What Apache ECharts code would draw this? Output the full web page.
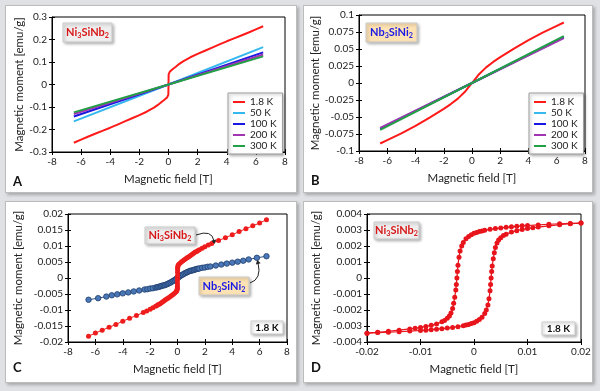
<!DOCTYPE html>
<html>
<head>
<meta charset="utf-8">
<script src="https://cdn.jsdelivr.net/npm/echarts@6/dist/echarts.min.js"></script>
<style>
html, body { margin: 0; padding: 0; background: #dfe1e4; }
#wrap { position: relative; width: 600px; height: 391px; }
.panel { position: absolute; background: #fff; border: 1px solid #bcbcbc; box-sizing: border-box;
         box-shadow: 2px 2px 3px rgba(0,0,0,0.25); }
#chart { position: absolute; left: 0; top: 0; width: 600px; height: 391px; }
</style>
</head>
<body>
<div id="wrap">
  <div class="panel" style="left:5px;top:5px;width:292px;height:188px"></div>
  <div class="panel" style="left:303px;top:5px;width:290px;height:188px"></div>
  <div class="panel" style="left:5px;top:201px;width:292px;height:182px"></div>
  <div class="panel" style="left:303px;top:201px;width:290px;height:182px"></div>
  <div id="chart"></div>
</div>
<script>
// panel A: Ni3SiNb2, M(H) at several temperatures
const a18X = [-6.5, -6, -5.5, -5, -4.5, -4, -3.5, -3, -2.5, -2, -1.5, -1, -0.75, -0.5, -0.3, -0.2, -0.1, -0.05, -0.01, 0,
              0.01, 0.05, 0.1, 0.2, 0.3, 0.5, 0.75, 1, 1.5, 2, 2.5, 3, 3.5, 4, 4.5, 5, 5.5, 6, 6.5];
const a18Y = [-0.259, -0.245, -0.231, -0.218, -0.205, -0.192, -0.178, -0.164, -0.150, -0.136, -0.121, -0.103, -0.092, -0.079, -0.069, -0.064, -0.058, -0.053, -0.045, 0,
              0.045, 0.053, 0.058, 0.064, 0.069, 0.079, 0.092, 0.103, 0.121, 0.136, 0.150, 0.164, 0.178, 0.192, 0.205, 0.218, 0.231, 0.245, 0.259];
const linX = [-6.5, 0, 6.5];
const a50Y = [-0.164, 0, 0.166];
const a100Y = [-0.142, 0, 0.143];
const a200Y = [-0.131, 0, 0.133];
const a300Y = [-0.124, 0, 0.125];

// panel B: Nb3SiNi2
const b18X = [-6.5, -6, -5, -4, -3, -2, -1.5, -1, -0.5, -0.25, 0, 0.25, 0.5, 1, 1.5, 2, 3, 4, 5, 6, 6.5];
const b18Y = [-0.089, -0.084, -0.074, -0.063, -0.051, -0.038, -0.031, -0.023, -0.013, -0.0065, 0,
              0.0065, 0.013, 0.023, 0.031, 0.038, 0.051, 0.063, 0.074, 0.084, 0.089];
const b50Y = [-0.067, 0, 0.068];
const b100Y = [-0.067, 0, 0.067];
const b200Y = [-0.066, 0, 0.066];
const b300Y = [-0.069, 0, 0.069];

const tempNames = ['1.8 K', '50 K', '100 K', '200 K', '300 K'];
const tempColors = ['#ff1a1a', '#35b8ee', '#1818e0', '#a234b4', '#22a046'];

// panel C: both compounds at 1.8 K
const cNiX = [-6.5, -6, -5.5, -5, -4.5, -4, -3.5, -3, -2.5, -2.25, -2, -1.8, -1.6, -1.5, -1.4, -1.3, -1.2, -1.1, -1, -0.9, -0.8, -0.7, -0.6, -0.5, -0.4, -0.3, -0.2, -0.1, -0.05, -0.02, -0.01, -0.006, -0.004, -0.002,
              0,
              0.002, 0.004, 0.006, 0.01, 0.02, 0.05, 0.1, 0.2, 0.3, 0.4, 0.5, 0.6, 0.7, 0.8, 0.9, 1, 1.1, 1.2, 1.3, 1.4, 1.5, 1.6, 1.8, 2, 2.25, 2.5, 3, 3.5, 4, 4.5, 5, 5.5, 6, 6.5];
const cNiY = [-0.0182, -0.0172, -0.0163, -0.0154, -0.0145, -0.0135, -0.0126, -0.0117, -0.0108, -0.0103, -0.0098, -0.0093, -0.0088, -0.0086, -0.0083, -0.0081, -0.0078, -0.0075, -0.0072, -0.0069, -0.0066, -0.0063, -0.0060, -0.0057, -0.0054, -0.0051, -0.0047, -0.0043, -0.0040, -0.0035, -0.0031, -0.0026, -0.0018, -0.0008,
              0,
              0.0008, 0.0018, 0.0026, 0.0031, 0.0035, 0.0040, 0.0043, 0.0047, 0.0051, 0.0054, 0.0057, 0.0060, 0.0063, 0.0066, 0.0069, 0.0072, 0.0075, 0.0078, 0.0081, 0.0083, 0.0086, 0.0088, 0.0093, 0.0098, 0.0103, 0.0108, 0.0117, 0.0126, 0.0135, 0.0145, 0.0154, 0.0163, 0.0172, 0.0182];
const cNbX = [-6.5, -5.8, -5.2, -4.8, -4.4, -4, -3.6, -3.2, -2.8, -2.4, -2.2, -2, -1.8, -1.6, -1.5, -1.4, -1.3, -1.2, -1.1, -1, -0.9, -0.8, -0.7, -0.6, -0.5, -0.4, -0.3, -0.2, -0.1,
              0,
              0.1, 0.2, 0.3, 0.4, 0.5, 0.6, 0.7, 0.8, 0.9, 1, 1.1, 1.2, 1.3, 1.4, 1.5, 1.6, 1.8, 2, 2.2, 2.4, 2.8, 3.2, 3.6, 4, 4.4, 4.8, 5.2, 5.8, 6.5];
const cNbY = [-0.0068, -0.0063, -0.0058, -0.0054, -0.0051, -0.0048, -0.0045, -0.0042, -0.0039, -0.0036, -0.0035, -0.0033, -0.0032, -0.0030, -0.0029, -0.0028, -0.0027, -0.0025, -0.0024, -0.0023, -0.0022, -0.0020, -0.0018, -0.0016, -0.0014, -0.0011, -0.0009, -0.0006, -0.0003,
              0,
              0.0003, 0.0006, 0.0009, 0.0011, 0.0014, 0.0016, 0.0018, 0.0020, 0.0022, 0.0023, 0.0024, 0.0025, 0.0027, 0.0028, 0.0029, 0.0030, 0.0032, 0.0033, 0.0035, 0.0036, 0.0039, 0.0042, 0.0045, 0.0048, 0.0051, 0.0054, 0.0058, 0.0063, 0.0068];

// panel D: low-field hysteresis loop of Ni3SiNb2
const dDownX = [0.02, 0.018, 0.016, 0.014, 0.012, 0.010, 0.009, 0.008, 0.007, 0.006, 0.005, 0.004, 0.003, 0.002, 0.0015, 0.001, 0.0005, 0,
                -0.0005, -0.001, -0.0015, -0.002, -0.0023, -0.0026, -0.0028, -0.0030, -0.0031, -0.0032, -0.0033, -0.0034, -0.0036, -0.0038, -0.0040,
                -0.0043, -0.0046, -0.005, -0.0055, -0.006, -0.007, -0.008, -0.009, -0.010, -0.011, -0.012, -0.014, -0.016, -0.018, -0.020];
const dDownY = [0.00343, 0.00341, 0.00339, 0.00336, 0.00332, 0.00328, 0.00326, 0.00323, 0.00320, 0.00317, 0.00313, 0.00309, 0.00304, 0.00298, 0.00294, 0.00290, 0.00285, 0.00279,
                0.00271, 0.00260, 0.00245, 0.00222, 0.00200, 0.00168, 0.00130, 0.00080, 0.00040, 0, -0.00040, -0.00075, -0.00120, -0.00158, -0.00190,
                -0.00218, -0.00237, -0.00252, -0.00265, -0.00274, -0.00287, -0.00296, -0.00303, -0.00309, -0.00314, -0.00318, -0.00326, -0.00333, -0.00339, -0.00345];
const dUpX = [-0.020, -0.018, -0.016, -0.014, -0.012, -0.010, -0.009, -0.008, -0.007, -0.006, -0.005, -0.004, -0.003, -0.002, -0.0015, -0.001, -0.0005, 0,
              0.0005, 0.001, 0.0015, 0.002, 0.0023, 0.0026, 0.0028, 0.0030, 0.0031, 0.0032, 0.0033, 0.0034, 0.0036, 0.0038, 0.0040,
              0.0043, 0.0046, 0.005, 0.0055, 0.006, 0.007, 0.008, 0.009, 0.010, 0.011, 0.012, 0.014, 0.016, 0.018, 0.020];
const dUpY = [-0.00345, -0.00341, -0.00339, -0.00336, -0.00332, -0.00328, -0.00326, -0.00323, -0.00320, -0.00317, -0.00313, -0.00309, -0.00304, -0.00298, -0.00294, -0.00290, -0.00285, -0.00279,
              -0.00271, -0.00260, -0.00245, -0.00222, -0.00200, -0.00168, -0.00130, -0.00080, -0.00040, 0, 0.00040, 0.00075, 0.00120, 0.00158, 0.00190,
              0.00218, 0.00237, 0.00252, 0.00265, 0.00274, 0.00287, 0.00296, 0.00303, 0.00309, 0.00314, 0.00318, 0.00326, 0.00333, 0.00339, 0.00343];

const xName = 'Magnetic field [T]';
const yName = 'Magnetic moment [emu/g]';

const FONT = 'Lato, "Open Sans", sans-serif';

function zip(xs, ys) {
    return xs.map((x, i) => [x, ys[i]]);
}

function fmt(v) {
    return String(Math.round(v * 100000) / 100000);
}

// main axis (line, outer ticks, labels) + overlay axis (inner ticks) => Excel style cross ticks
function axisPair(dim, gi, min, max, interval, name, gap) {
    const main = {
        type: 'value', gridIndex: gi, min: min, max: max, interval: interval,
        position: dim === 'x' ? 'bottom' : 'left',
        name: name, nameLocation: 'middle', nameGap: gap,
        nameTextStyle: { fontFamily: FONT, fontSize: 11.5, color: '#222' },
        axisLine: { show: true, onZero: false, lineStyle: { color: '#000', width: 1 } },
        axisTick: { show: true, inside: false, length: 3, lineStyle: { color: '#000' } },
        axisLabel: { fontFamily: FONT, fontSize: 10, color: '#222', margin: 5, formatter: fmt },
        splitLine: { show: false }
    };
    const over = {
        type: 'value', gridIndex: gi, min: min, max: max, interval: interval,
        position: dim === 'x' ? 'bottom' : 'left',
        axisLine: { show: false, onZero: false },
        axisTick: { show: true, inside: true, length: 3, lineStyle: { color: '#000' } },
        axisLabel: { show: false },
        splitLine: { show: false }
    };
    return [main, over];
}

function tag(x, y, w, h, bg, color, text, fs) {
    return {
        type: 'group', x: x, y: y, z: 50,
        children: [
            {
                type: 'rect', shape: { x: 0, y: 0, width: w, height: h },
                style: { fill: bg, stroke: '#c9c9c9', lineWidth: 1,
                         shadowBlur: 3, shadowOffsetX: 1.5, shadowOffsetY: 1.5, shadowColor: 'rgba(0,0,0,0.3)' }
            },
            {
                type: 'text',
                style: {
                    x: w / 2, y: h / 2, align: 'center', verticalAlign: 'middle',
                    text: text,
                    rich: {
                        n: { fontFamily: FONT, fontSize: fs, fontWeight: 'bold', fill: color, lineHeight: 14 },
                        s: { fontFamily: FONT, fontSize: fs * 0.65, fontWeight: 'bold', fill: color, verticalAlign: 'bottom' }
                    }
                }
            }
        ]
    };
}

function arrow(x1, y1, cx, cy, x2, y2) {
    const dx = x2 - cx, dy = y2 - cy;
    const len = Math.sqrt(dx * dx + dy * dy);
    const ux = dx / len, uy = dy / len;
    const tipX = x2 + ux * 3, tipY = y2 + uy * 3;
    const bx = x2 - ux * 1, by = y2 - uy * 1;
    return [
        { type: 'bezierCurve', z: 50, shape: { x1: x1, y1: y1, cpx1: cx, cpy1: cy, x2: x2, y2: y2 },
          style: { stroke: '#222', lineWidth: 1, fill: null } },
        { type: 'polygon', z: 50,
          shape: { points: [[tipX, tipY], [bx - uy * 2.5, by + ux * 2.5], [bx + uy * 2.5, by - ux * 2.5]] },
          style: { fill: '#222' } }
    ];
}

function letter(x, y, t) {
    return { type: 'text', z: 50, style: { x: x, y: y, text: t, fontFamily: FONT, fontSize: 13, fontWeight: 'bold', fill: '#111', verticalAlign: 'middle' } };
}

const niText = '{n|Ni}{s|3}{n|SiNb}{s|2}';
const nbText = '{n|Nb}{s|3}{n|SiNi}{s|2}';

const grids = [
    { left: 52, top: 17, width: 233, height: 135 },
    { left: 359, top: 15, width: 226, height: 136 },
    { left: 68, top: 214, width: 219, height: 128 },
    { left: 367, top: 214, width: 214, height: 128 }
].map(g => Object.assign(g, { show: true, borderColor: '#000', borderWidth: 1, backgroundColor: 'transparent' }));

const xAxes = [].concat(
    axisPair('x', 0, -8, 8, 2, xName, 21),
    axisPair('x', 1, -8, 8, 2, xName, 21),
    axisPair('x', 2, -8, 8, 2, xName, 21),
    axisPair('x', 3, -0.02, 0.02, 0.01, xName, 21)
);
const yAxes = [].concat(
    axisPair('y', 0, -0.3, 0.3, 0.1, yName, 23),
    axisPair('y', 1, -0.1, 0.1, 0.025, yName, 37),
    axisPair('y', 2, -0.02, 0.02, 0.005, yName, 44),
    axisPair('y', 3, -0.004, 0.004, 0.001, yName, 45)
);

const series = [];
const aY = [a18Y, a50Y, a100Y, a200Y, a300Y];
const bY = [b18Y, b50Y, b100Y, b200Y, b300Y];
tempNames.forEach((n, i) => {
    series.push({
        name: n, type: 'line', xAxisIndex: 0, yAxisIndex: 0, color: tempColors[i],
        data: zip(i === 0 ? a18X : linX, aY[i]), symbol: 'none', lineStyle: { width: 2 }
    });
});
tempNames.forEach((n, i) => {
    series.push({
        name: n, type: 'line', xAxisIndex: 2, yAxisIndex: 2, color: tempColors[i],
        data: zip(i === 0 ? b18X : linX, bY[i]), symbol: 'none', lineStyle: { width: 2 }
    });
});
series.push({
    name: 'Nb3SiNi2', type: 'line', xAxisIndex: 4, yAxisIndex: 4, data: zip(cNbX, cNbY),
    symbol: 'circle', symbolSize: 5.5,
    itemStyle: { color: '#4a78b6', borderColor: '#1f3d6e', borderWidth: 0.8 },
    lineStyle: { color: '#2c4f80', width: 1 }
});
series.push({
    name: 'Ni3SiNb2', type: 'line', xAxisIndex: 4, yAxisIndex: 4, data: zip(cNiX, cNiY),
    symbol: 'circle', symbolSize: 5,
    itemStyle: { color: '#ee1c1c' }, lineStyle: { color: '#ee1c1c', width: 1 }
});
series.push({
    name: 'loop down', type: 'line', xAxisIndex: 6, yAxisIndex: 6, data: zip(dDownX, dDownY),
    symbol: 'circle', symbolSize: 5,
    itemStyle: { color: '#e8141c' }, lineStyle: { color: '#e8141c', width: 1.2 }
});
series.push({
    name: 'loop up', type: 'line', xAxisIndex: 6, yAxisIndex: 6, data: zip(dUpX, dUpY),
    symbol: 'circle', symbolSize: 5,
    itemStyle: { color: '#e8141c' }, lineStyle: { color: '#e8141c', width: 1.2 }
});

function legendAt(left, top) {
    return {
        data: tempNames, orient: 'vertical', left: left, top: top,
        icon: 'rect', itemWidth: 12, itemHeight: 2, itemGap: 1,
        padding: [4, 6, 3, 5],
        backgroundColor: '#fff', borderColor: '#9a9a9a', borderWidth: 1,
        shadowBlur: 3, shadowOffsetX: 1.5, shadowOffsetY: 1.5, shadowColor: 'rgba(0,0,0,0.3)',
        textStyle: { fontFamily: FONT, fontSize: 10, color: '#222', lineHeight: 9 },
        selectedMode: false
    };
}

const graphics = [
    tag(63, 23, 49, 19, '#efefef', '#d81818', niText, 11),
    tag(366, 23, 51, 19, '#fde2b3', '#1a1ae6', nbText, 11),
    tag(145, 227, 50, 17, '#efefef', '#d81818', niText, 11),
    tag(199, 277, 50, 18, '#fde2b3', '#1a1ae6', nbText, 11),
    tag(251, 321, 32, 13, '#ffffff', '#111', '{n|1.8 K}', 10),
    tag(374, 222, 45, 17, '#efefef', '#d81818', niText, 11),
    tag(542, 322, 33, 13, '#ffffff', '#111', '{n|1.8 K}', 10),
    letter(13, 182, 'A'),
    letter(311, 181, 'B'),
    letter(13, 368, 'C'),
    letter(311, 368, 'D')
].concat(arrow(196, 235, 212, 229, 214, 241), arrow(250, 283, 262, 279, 258, 263));

const chart = echarts.init(document.getElementById('chart'));
chart.setOption({
    animation: false,
    backgroundColor: 'transparent',
    grid: grids,
    xAxis: xAxes,
    yAxis: yAxes,
    legend: [legendAt(228, 93), legendAt(529, 93)],
    series: series,
    graphic: graphics
});
</script>
</body>
</html>
